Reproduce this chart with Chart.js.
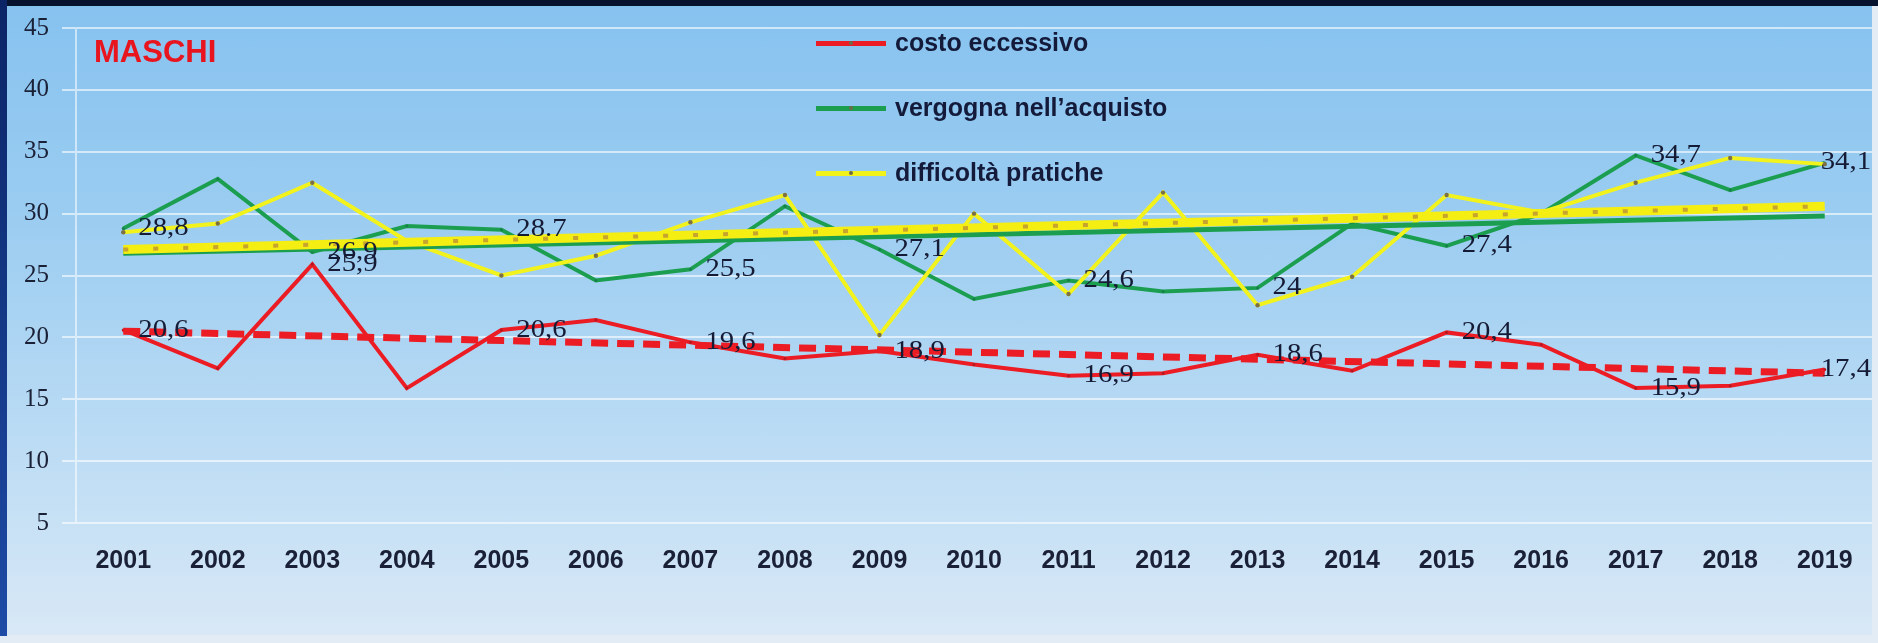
<!DOCTYPE html>
<html>
<head>
<meta charset="utf-8">
<script src="https://cdn.jsdelivr.net/npm/chart.js@4.4.1/dist/chart.umd.min.js"></script>
<style>
  html, body { margin: 0; padding: 0; }
  body { width: 1878px; height: 643px; background: #e3ebf4; position: relative; overflow: hidden; }
  #panel {
    position: absolute; left: 7px; top: 5px; width: 1865px; height: 630px;
    background: linear-gradient(to bottom, #86c2ef 0%, #9ccdf1 35%, #bcdcf4 70%, #d8e8f6 100%);
  }
  #topbar { position: absolute; left: 0; top: 0; width: 1878px; height: 6px; background: #07132e; }
  #leftbar { position: absolute; left: 0; top: 0; width: 7px; height: 636px; background: linear-gradient(to bottom, #0b2466, #1d4ba6); }
  #chart { position: absolute; left: 0; top: 0; }
  #title {
    position: absolute; left: 94px; top: 34px;
    font: bold 31px "Liberation Sans", Arial, sans-serif; color: #e8141e;
  }
  #legend { position: absolute; left: 816px; top: 0; }
  .item { position: absolute; left: 0; height: 30px; width: 600px; }
  .swatch { position: absolute; left: 0; top: 13px; width: 70px; height: 5px; }
  .dot { position: absolute; left: 33px; top: 0px; width: 4px; height: 4px; border-radius: 2px; background: #6e6a4a; }
  .text {
    position: absolute; left: 79px; top: 0; line-height: 30px; white-space: nowrap;
    font: bold 25px "Liberation Sans", Arial, sans-serif; color: #141a3a;
  }
</style>
</head>
<body>
<div id="panel"></div>
<div id="topbar"></div>
<div id="leftbar"></div>
<canvas id="chart" width="1878" height="643"></canvas>
<div id="title">MASCHI</div>
<div id="legend"></div>
<script>
const years = ['2001', '2002', '2003', '2004', '2005', '2006', '2007', '2008', '2009', '2010',
  '2011', '2012', '2013', '2014', '2015', '2016', '2017', '2018', '2019'];

const costoEccessivo = [20.6, 17.5, 25.9, 15.9, 20.6, 21.4, 19.6, 18.3, 18.9, 17.8,
  16.9, 17.1, 18.6, 17.3, 20.4, 19.4, 15.9, 16.1, 17.4];
const vergognaAcquisto = [28.8, 32.8, 26.9, 29.0, 28.7, 24.6, 25.5, 30.6, 27.1, 23.1,
  24.6, 23.7, 24.0, 29.2, 27.4, 30.0, 34.7, 31.9, 34.1];
const difficoltaPratiche = [28.5, 29.2, 32.5, 27.8, 25.0, 26.6, 29.3, 31.5, 20.2, 30.0,
  23.5, 31.7, 22.6, 24.9, 31.5, 30.1, 32.5, 34.5, 34.0];

// valori mostrati sul grafico
const costoLabels = ['20,6', null, '25,9', null, '20,6', null, '19,6', null, '18,9', null,
  '16,9', null, '18,6', null, '20,4', null, '15,9', null, '17,4'];
const vergognaLabels = ['28,8', null, '26,9', null, '28.7', null, '25,5', null, '27,1', null,
  '24,6', null, '24', null, '27,4', null, '34,7', null, '34,1'];

// linee di tendenza: valore al 2001 e al 2019
const costoTrend = [20.5, 17.1];
const vergognaTrend = [26.8, 29.8];
const difficoltaTrend = [27.1, 30.6];

const RED = '#ec1c24';
const GREEN = '#1c9e50';
const YELLOW = '#f2f21c';

function trendData(ends) {
  const arr = years.map(() => null);
  arr[0] = ends[0];
  arr[arr.length - 1] = ends[1];
  return arr;
}

const valueLabels = {
  id: 'valueLabels',
  afterDatasetsDraw(chart) {
    const ctx = chart.ctx;
    const sx = 1.15;
    chart.data.datasets.forEach((ds, i) => {
      if (!ds.valueLabels) return;
      const meta = chart.getDatasetMeta(i);
      meta.data.forEach((pt, j) => {
        const txt = ds.valueLabels[j];
        if (!txt) return;
        ctx.save();
        ctx.font = '25px "Liberation Serif", "Times New Roman", serif';
        const w = ctx.measureText(txt).width * sx;
        // come in Excel, l'etichetta resta dentro il riquadro
        const x = Math.min(pt.x + 15, chart.width - 7 - w);
        ctx.translate(x, pt.y);
        ctx.scale(sx, 1);
        ctx.fillStyle = '#151b35';
        ctx.textBaseline = 'middle';
        ctx.textAlign = 'left';
        ctx.fillText(txt, 0, 0);
        ctx.restore();
      });
    });
  }
};

const chart = new Chart(document.getElementById('chart'), {
  type: 'line',
  data: {
    labels: years,
    datasets: [
      {
        label: 'tendenza difficoltà (segni)',
        data: trendData(difficoltaTrend),
        borderColor: 'rgba(190,150,50,0.85)',
        borderWidth: 4,
        borderDash: [5, 25],
        spanGaps: true,
        pointRadius: 0,
      },
      {
        label: 'tendenza difficoltà',
        data: trendData(difficoltaTrend),
        borderColor: '#f4ee12',
        borderWidth: 9,
        spanGaps: true,
        pointRadius: 0,
      },
      {
        label: 'tendenza vergogna',
        data: trendData(vergognaTrend),
        borderColor: GREEN,
        borderWidth: 5,
        spanGaps: true,
        pointRadius: 0,
      },
      {
        label: 'tendenza costo',
        data: trendData(costoTrend),
        borderColor: RED,
        borderWidth: 7,
        borderDash: [17, 9],
        spanGaps: true,
        pointRadius: 0,
      },
      {
        label: 'difficoltà pratiche',
        data: difficoltaPratiche,
        borderColor: YELLOW,
        borderWidth: 4,
        pointRadius: 2.2,
        pointBorderWidth: 0,
        pointBackgroundColor: '#7c7046',
      },
      {
        label: 'vergogna nell\u2019acquisto',
        data: vergognaAcquisto,
        borderColor: GREEN,
        borderWidth: 4,
        pointRadius: 1.5,
        pointBorderWidth: 0,
        pointBackgroundColor: '#17804a',
        valueLabels: vergognaLabels,
      },
      {
        label: 'costo eccessivo',
        data: costoEccessivo,
        borderColor: RED,
        borderWidth: 4,
        pointRadius: 1.5,
        pointBorderWidth: 0,
        pointBackgroundColor: '#b51820',
        valueLabels: costoLabels,
      },
    ]
  },
  options: {
    responsive: false,
    devicePixelRatio: 1,
    animation: false,
    layout: { padding: { top: 24, right: 6, bottom: 0, left: 0 } },
    plugins: {
      legend: { display: false },
      tooltip: { enabled: false },
    },
    elements: { line: { tension: 0 } },
    scales: {
      x: {
        offset: true,
        grid: { display: false },
        border: { display: false },
        ticks: {
          autoSkip: false,
          maxRotation: 0,
          padding: 15,
          color: '#1a2036',
          font: { family: '"Liberation Sans", Arial, sans-serif', size: 25, weight: 'bold' },
        },
        afterFit(scale) { scale.height = 120; },
      },
      y: {
        min: 5,
        max: 45,
        grid: {
          color: 'rgba(255,255,255,0.6)',
          lineWidth: 2,
          tickLength: 14,
        },
        border: { display: true, color: 'rgba(255,255,255,0.55)', width: 2 },
        ticks: {
          stepSize: 5,
          padding: 13,
          color: '#1a2036',
          font: { family: '"Liberation Serif", "Times New Roman", serif', size: 25 },
        },
        afterFit(scale) { scale.width = 76; },
      }
    }
  },
  plugins: [valueLabels]
});

// legenda verticale come nell'originale
const legendItems = [
  { name: 'costo eccessivo', color: RED },
  { name: 'vergogna nell\u2019acquisto', color: GREEN },
  { name: 'difficoltà pratiche', color: YELLOW },
];
const legend = document.getElementById('legend');
legendItems.forEach((it, i) => {
  const row = document.createElement('div');
  row.className = 'item';
  row.style.top = (28 + i * 65) + 'px';
  row.innerHTML = '<div class="swatch" style="background:' + it.color + '"><div class="dot"></div></div>' +
    '<div class="text">' + it.name + '</div>';
  legend.appendChild(row);
});
</script>
</body>
</html>
